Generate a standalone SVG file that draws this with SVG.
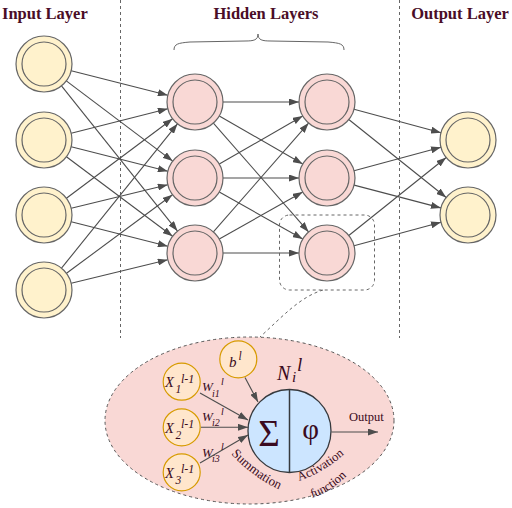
<svg xmlns="http://www.w3.org/2000/svg" width="512" height="508" viewBox="0 0 512 508">
<defs>
<style>
.title{font-family:"Liberation Serif","Times New Roman",serif;font-weight:bold;font-size:16.5px;fill:#4a0d27}
.sep{stroke:#666;stroke-width:1;stroke-dasharray:3,3;fill:none}
.io{fill:#fff2cc;stroke:#666;stroke-width:1.2}
.hid{fill:#f9d8d5;stroke:#666;stroke-width:1.2}
.inner{fill:none;stroke:#666;stroke-width:1.2}
.edge{stroke:#4d4d4d;stroke-width:1.1;fill:none;marker-end:url(#arr)}
.sm{fill:#ffe6cc;stroke:#d79b00;stroke-width:1.2}
.m{font-family:"Liberation Serif","Times New Roman",serif;fill:#3a0a20}
.it{font-style:italic}
</style>
<marker id="arr" markerUnits="userSpaceOnUse" markerWidth="10" markerHeight="7" refX="10" refY="3.5" orient="auto">
<path d="M0,0 L10,3.5 L0,7 z" fill="#4d4d4d"/>
</marker>
<path id="pSum" d="M231,454 Q257,482 292,495"/>
<path id="pAct" d="M299,481 Q328,471 352,447"/>
<path id="pFun" d="M312,498 Q336,491 360,461"/>
</defs>
<rect width="512" height="508" fill="#fff"/>

<g id="titles">
<text class="title" x="2" y="18.5">Input Layer</text>
<text class="title" x="266" y="18.5" text-anchor="middle">Hidden Layers</text>
<text class="title" x="460" y="18.5" text-anchor="middle">Output Layer</text>
</g>

<g id="separators">
<line class="sep" x1="120.5" y1="0" x2="120.5" y2="338"/>
<line class="sep" x1="399.5" y1="0" x2="399.5" y2="338" stroke="#333"/>
</g>

<path id="brace" d="M174,50 C174,44 178,43 190,42 L245,41 C254,41 258,40 258,34 C258,40 262,41 271,41 L328,42 C340,43 344,44 344,50" fill="none" stroke="#666" stroke-width="1"/>

<g id="connectors">
<line class="edge" x1="71.2" y1="70.8" x2="167.8" y2="95.2"/>
<line class="edge" x1="66.3" y1="80.9" x2="172.7" y2="161.1"/>
<line class="edge" x1="61.5" y1="85.9" x2="177.5" y2="231.1"/>
<line class="edge" x1="71.2" y1="133.2" x2="167.8" y2="108.8"/>
<line class="edge" x1="71.2" y1="146.8" x2="167.8" y2="171.2"/>
<line class="edge" x1="66.4" y1="156.8" x2="172.6" y2="236.2"/>
<line class="edge" x1="66.4" y1="198.2" x2="172.6" y2="118.8"/>
<line class="edge" x1="71.2" y1="208.3" x2="167.8" y2="184.7"/>
<line class="edge" x1="71.2" y1="221.8" x2="167.8" y2="246.2"/>
<line class="edge" x1="61.5" y1="268.2" x2="177.5" y2="123.8"/>
<line class="edge" x1="66.5" y1="273.3" x2="172.5" y2="194.7"/>
<line class="edge" x1="71.2" y1="283.3" x2="167.8" y2="259.7"/>

<line class="edge" x1="223" y1="102" x2="299" y2="102"/>
<line class="edge" x1="219.3" y1="116" x2="302.7" y2="164"/>
<line class="edge" x1="213.4" y1="123.1" x2="308.6" y2="231.9"/>
<line class="edge" x1="219.3" y1="164" x2="302.7" y2="116"/>
<line class="edge" x1="223" y1="178" x2="299" y2="178"/>
<line class="edge" x1="219.3" y1="192" x2="302.7" y2="239"/>
<line class="edge" x1="213.4" y1="231.9" x2="308.6" y2="123.1"/>
<line class="edge" x1="219.3" y1="239" x2="302.7" y2="192"/>
<line class="edge" x1="223" y1="253" x2="299" y2="253"/>

<line class="edge" x1="354" y1="109.3" x2="441" y2="132.7"/>
<line class="edge" x1="348.8" y1="119.5" x2="446.2" y2="197.5"/>
<line class="edge" x1="354" y1="170.7" x2="441" y2="147.3"/>
<line class="edge" x1="354.1" y1="185.1" x2="440.9" y2="207.9"/>
<line class="edge" x1="348.8" y1="235.5" x2="446.2" y2="157.5"/>
<line class="edge" x1="354" y1="245.7" x2="441" y2="222.3"/>
</g>

<g id="input-1"><circle class="io" cx="44" cy="64" r="28"/><circle class="inner" cx="44" cy="64" r="22"/></g>
<g id="input-2"><circle class="io" cx="44" cy="140" r="28"/><circle class="inner" cx="44" cy="140" r="22"/></g>
<g id="input-3"><circle class="io" cx="44" cy="215" r="28"/><circle class="inner" cx="44" cy="215" r="22"/></g>
<g id="input-4"><circle class="io" cx="44" cy="290" r="28"/><circle class="inner" cx="44" cy="290" r="22"/></g>

<g id="hidden1-1"><circle class="hid" cx="195" cy="102" r="28"/><circle class="inner" cx="195" cy="102" r="22"/></g>
<g id="hidden1-2"><circle class="hid" cx="195" cy="178" r="28"/><circle class="inner" cx="195" cy="178" r="22"/></g>
<g id="hidden1-3"><circle class="hid" cx="195" cy="253" r="28"/><circle class="inner" cx="195" cy="253" r="22"/></g>

<g id="hidden2-1"><circle class="hid" cx="327" cy="102" r="28"/><circle class="inner" cx="327" cy="102" r="22"/></g>
<g id="hidden2-2"><circle class="hid" cx="327" cy="178" r="28"/><circle class="inner" cx="327" cy="178" r="22"/></g>
<g id="hidden2-3"><circle class="hid" cx="327" cy="253" r="28"/><circle class="inner" cx="327" cy="253" r="22"/></g>

<g id="output-1"><circle class="io" cx="468" cy="140" r="28"/><circle class="inner" cx="468" cy="140" r="22"/></g>
<g id="output-2"><circle class="io" cx="468" cy="215" r="28"/><circle class="inner" cx="468" cy="215" r="22"/></g>

<g id="zoom-callout">
<rect class="sep" x="279.5" y="215" width="95" height="75" rx="10" stroke="#555"/>
<path class="sep" d="M323,290 C300,297 283,316 260,337" stroke="#555"/>
</g>

<g id="neuron-detail">
<ellipse cx="249.5" cy="420.5" rx="144.5" ry="83.5" fill="#f9d8d5" stroke="#555" stroke-width="1" stroke-dasharray="3,3"/>
<g id="neuron-arrows">
<line class="edge" x1="200" y1="393" x2="248" y2="420"/>
<line class="edge" x1="201" y1="427.3" x2="248" y2="427.3"/>
<line class="edge" x1="200" y1="463" x2="248" y2="435"/>
<line class="edge" x1="245" y1="377.5" x2="258" y2="402"/>
<line class="edge" x1="331.5" y1="432" x2="378" y2="432"/>
</g>
<g id="x1"><circle class="sm" cx="181.7" cy="381.7" r="18.5"/>
<text class="m it" x="165" y="387" font-size="14.5">X</text><text class="m it" x="175.5" y="393" font-size="11.5">1</text><text class="m it" x="181" y="382.5" font-size="12">l-1</text></g>
<g id="x2"><circle class="sm" cx="181.7" cy="427.3" r="18.5"/>
<text class="m it" x="165" y="432.6" font-size="14.5">X</text><text class="m it" x="175.5" y="438.6" font-size="11.5">2</text><text class="m it" x="181" y="428.1" font-size="12">l-1</text></g>
<g id="x3"><circle class="sm" cx="181.7" cy="472.3" r="18.5"/>
<text class="m it" x="165" y="477.6" font-size="14.5">X</text><text class="m it" x="175.5" y="483.6" font-size="11.5">3</text><text class="m it" x="181" y="473.1" font-size="12">l-1</text></g>
<g id="bias"><circle class="sm" cx="238.3" cy="359.3" r="18.5"/>
<text class="m it" x="229" y="367" font-size="15">b</text><text class="m it" x="238.5" y="359.5" font-size="11.5">l</text></g>

<g id="weights">
<text class="m it" x="202" y="391" font-size="13">W</text><text class="m it" x="212" y="396.5" font-size="10">i1</text><text class="m it" x="221" y="385" font-size="10">l</text>
<text class="m it" x="202" y="420.5" font-size="13">W</text><text class="m it" x="212" y="426" font-size="10">i2</text><text class="m it" x="221" y="414.5" font-size="10">l</text>
<text class="m it" x="202" y="456.5" font-size="13">W</text><text class="m it" x="212" y="462" font-size="10">i3</text><text class="m it" x="221" y="450" font-size="10">l</text>
</g>

<g id="neuron">
<circle cx="289.5" cy="431" r="41.5" fill="#cce5ff" stroke="#36393d" stroke-width="1.3"/>
<line x1="289.5" y1="389.5" x2="289.5" y2="472.5" stroke="#36393d" stroke-width="1.5"/>
<text class="m" x="269" y="446" font-size="37" text-anchor="middle">Σ</text>
<text class="m" x="310.5" y="439" font-size="29" text-anchor="middle">φ</text>
<text class="m it" x="277" y="380" font-size="20">N</text><text class="m it" x="292" y="382" font-size="15">i</text><text class="m it" x="297" y="370.5" font-size="19">l</text>
</g>

<text class="m" x="349" y="420.5" font-size="12.5">Output</text>
<text class="m" font-size="13"><textPath href="#pSum">Summation</textPath></text>
<text class="m" font-size="12.5"><textPath href="#pAct">Activation</textPath></text>
<text class="m" font-size="12.5"><textPath href="#pFun">function</textPath></text>
</g>
</svg>
